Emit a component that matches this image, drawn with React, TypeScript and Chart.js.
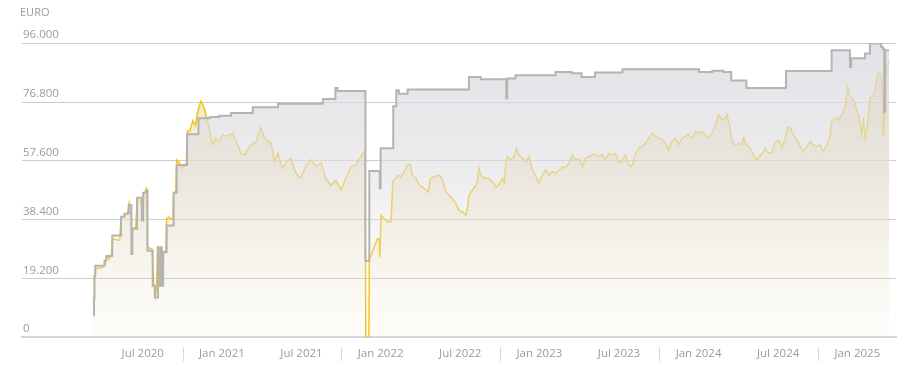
import React, { useEffect, useRef } from 'react';
import { Chart, registerables } from 'chart.js';

Chart.register(...registerables);

// x values are days since 1 Jan 2020
const valueDays = [
  161, 162, 163, 165, 181, 186, 188, 193, 197, 202,
  205, 221, 224, 232, 239, 243, 247, 249, 251, 258,
  261, 270, 274, 276, 282, 285, 295, 299, 303, 306,
  308, 311, 314, 316, 320, 322, 327, 329, 335, 340,
  343, 345, 350, 352, 358, 364, 370, 374, 377, 383,
  389, 395, 400, 404, 408, 412, 415, 419, 425, 431,
  436, 442, 450, 457, 466, 473, 481, 489, 500, 508,
  516, 523, 535, 540, 546, 554, 562, 569, 577, 585,
  596, 606, 615, 623, 630, 638, 650, 661, 673, 684,
  695, 707, 718, 730, 741, 753, 764, 776, 782, 785,
  787, 794, 795, 799, 806, 814, 818, 819, 822, 829,
  837, 845, 849, 852, 860, 868, 875, 883, 889, 894,
  902, 910, 917, 925, 930, 936, 944, 956, 963, 971,
  978, 986, 994, 1001, 1009, 1017, 1021, 1024, 1032, 1040,
  1044, 1047, 1051, 1059, 1067, 1078, 1086, 1093, 1101, 1105,
  1109, 1113, 1120, 1128, 1133, 1139, 1147, 1155, 1162, 1170,
  1177, 1184, 1193, 1200, 1208, 1216, 1223, 1231, 1239, 1246,
  1254, 1262, 1269, 1277, 1285, 1292, 1300, 1308, 1315, 1323,
  1331, 1338, 1346, 1354, 1361, 1369, 1377, 1384, 1392, 1396,
  1400, 1407, 1415, 1422, 1430, 1438, 1445, 1453, 1461, 1468,
  1476, 1483, 1491, 1499, 1506, 1514, 1522, 1529, 1537, 1545,
  1552, 1560, 1568, 1575, 1583, 1591, 1598, 1606, 1614, 1617,
  1623, 1629, 1637, 1644, 1650, 1656, 1662, 1671, 1679, 1686,
  1694, 1702, 1705, 1713, 1721, 1728, 1736, 1744, 1751, 1758,
  1763, 1770, 1778, 1786, 1793, 1801, 1809, 1816, 1824, 1832,
  1839, 1847, 1855, 1858, 1866, 1874, 1881, 1889, 1895, 1900,
  1908, 1912, 1920, 1927, 1931, 1935, 1941, 1946, 1954, 1962,
  1965, 1972, 1975, 1977, 1980, 1983, 1990,
];

const valueEuro = [
  7100, 12000, 19000, 22300, 22800, 23500, 24200, 26100, 25500, 27000,
  32100, 31600, 38700, 39800, 40500, 43900, 42000, 27200, 35400, 36000,
  45000, 44500, 38100, 46500, 48300, 29400, 28800, 17900, 13500, 17000,
  29400, 29000, 16800, 29400, 17500, 28000, 28000, 38700, 39200, 38500,
  38500, 47200, 47500, 57900, 57000, 55100, 56000, 56500, 67400, 67500,
  70700, 69200, 73200, 75500, 77100, 76000, 74900, 72700, 69400, 65000,
  62800, 65000, 63900, 66100, 65600, 66000, 66600, 63900, 60000, 59500,
  61600, 62800, 63900, 66500, 68500, 65000, 63900, 63500, 57300, 60000,
  55100, 57500, 58400, 54600, 52800, 52100, 56200, 57900, 55700, 56800,
  51900, 49600, 51300, 48000, 51900, 55700, 56200, 59000, 60600, 58500,
  0, 0, 25500, 26600, 29400, 32100, 32000, 26100, 39800, 38700,
  37600, 37800, 50800, 51300, 52900, 52400, 54100, 56200, 56500, 52900,
  51900, 49600, 49100, 48000, 47500, 51900, 52400, 52900, 51300, 47500,
  46400, 45300, 43600, 41400, 40900, 39800, 42500, 46400, 48000, 49600,
  51300, 55100, 52900, 52100, 51900, 50800, 49100, 49800, 51900, 50500,
  56800, 59000, 57900, 59000, 61700, 59500, 58400, 57300, 59000, 54600,
  52900, 50200, 52900, 54600, 52900, 54100, 53500, 54500, 55700, 55300,
  56800, 59500, 57900, 58200, 55700, 58400, 59000, 59500, 59700, 59000,
  59500, 57900, 60000, 59500, 60000, 56800, 57900, 59500, 56200, 55700,
  56500, 60000, 61700, 62300, 63400, 65000, 66600, 65600, 65000, 64500,
  63400, 61200, 63900, 65000, 62800, 65000, 65600, 66100, 65000, 67200,
  66600, 67200, 66100, 65000, 66600, 69400, 72700, 71000, 71600, 72700,
  69400, 63900, 62800, 63200, 62800, 65000, 62800, 61700, 59500, 57900,
  59500, 60600, 61700, 60000, 60300, 63400, 64500, 61700, 65000, 68800,
  68300, 66100, 64500, 62300, 60600, 62300, 63900, 62800, 62300, 62800,
  60600, 62800, 66100, 70500, 71600, 71000, 72700, 74900, 81400, 78700,
  77600, 76000, 72700, 66000, 71600, 65000, 69900, 78200, 78700, 83600,
  86400, 85800, 80000, 65600, 75000, 88000, 90200,
];

const investedDays = [
  161, 162, 163, 165, 186, 190, 204, 224, 232, 242,
  248, 250, 261, 272, 275, 283, 285, 297, 302, 309,
  311, 316, 318, 321, 329, 345, 352, 376, 402, 428,
  450, 477, 527, 585, 688, 717, 722, 786, 795, 819,
  821, 850, 857, 863, 883, 1024, 1051, 1110, 1112, 1131,
  1223, 1260, 1283, 1314, 1377, 1553, 1584, 1609, 1627, 1662,
  1753, 1858, 1900, 1903, 1935, 1946, 1972, 1976, 1979, 1981,
  1990,
];

const investedEuro = [
  7100, 13000, 20000, 23300, 25000, 26500, 33200, 39300, 40300, 43100,
  27200, 35400, 45500, 38100, 47200, 48000, 28200, 16800, 13000, 29400,
  16800, 29400, 16800, 27700, 36500, 47200, 56200, 66300, 71500, 71900,
  72300, 73200, 75100, 76200, 77800, 81400, 80400, 25000, 54300, 48600,
  61700, 75400, 80600, 79500, 80900, 85000, 84200, 78000, 84500, 85500,
  86600, 86200, 85000, 86400, 87500, 86600, 87000, 86600, 83800, 81400,
  86900, 93700, 88200, 91100, 92600, 95900, 94800, 94000, 73600, 93700,
  93700,
];

const xTickDays = [274, 456, 639, 821, 1004, 1186, 1369, 1552, 1735, 1917];
const xTickLabels = ['Jul 2020', 'Jan 2021', 'Jul 2021', 'Jan 2022', 'Jul 2022', 'Jan 2023', 'Jul 2023', 'Jan 2024', 'Jul 2024', 'Jan 2025'];
const yearStartDays = [366, 731, 1096, 1461, 1827];
const yTickValues = [0, 19200, 38400, 57600, 76800, 96000];

const FONT = "'Open Sans', 'DejaVu Sans', sans-serif";
const LABEL_COLOR = '#9b9b9b';

function formatEuro(v: number): string {
  if (v === 0) return '0';
  const th = Math.floor(v / 1000);
  const rest = String(Math.round(v % 1000)).padStart(3, '0');
  return th + '.' + rest;
}

function makeGradient(chart: any, stops: Array<[number, string]>) {
  const area = chart.chartArea;
  if (!area) return stops[stops.length - 1][1];
  const g = chart.ctx.createLinearGradient(0, area.top, 0, area.bottom);
  stops.forEach(([o, c]) => g.addColorStop(o, c));
  return g;
}

const separatorPlugin = {
  id: 'yearSeparators',
  afterDraw(chart: any) {
    const { ctx, chartArea } = chart;
    const xs = chart.scales.x;
    ctx.save();
    ctx.strokeStyle = '#d8d8d8';
    ctx.lineWidth = 1;
    yearStartDays.forEach((d) => {
      const px = Math.round(xs.getPixelForValue(d)) + 0.5;
      ctx.beginPath();
      ctx.moveTo(px, chartArea.bottom + 10);
      ctx.lineTo(px, chartArea.bottom + 24);
      ctx.stroke();
    });
    ctx.restore();
  },
};

export default function App() {
  const ref = useRef<HTMLCanvasElement | null>(null);

  useEffect(() => {
    if (!ref.current) return;
    const chart = new Chart(ref.current, {
      type: 'line',
      data: {
        datasets: [
          {
            label: 'Einstand',
            data: investedDays.map((d, i) => ({ x: d, y: investedEuro[i] })),
            stepped: true,
            borderColor: '#b4b4b4',
            borderWidth: 2,
            pointRadius: 0,
            fill: 'origin',
            backgroundColor: (c: any) =>
              makeGradient(c.chart, [
                [0, 'rgba(218,218,223,0.78)'],
                [0.42, 'rgba(222,222,227,0.58)'],
                [0.72, 'rgba(226,226,230,0.2)'],
                [1, 'rgba(230,230,233,0.03)'],
              ]),
          },
          {
            label: 'Depotwert',
            data: valueDays.map((d, i) => ({ x: d, y: valueEuro[i] })),
            borderColor: '#f5c417',
            borderWidth: 1.5,
            pointRadius: 0,
            tension: 0,
            fill: 'origin',
            backgroundColor: (c: any) =>
              makeGradient(c.chart, [
                [0, 'rgba(232,202,112,0.5)'],
                [0.5, 'rgba(234,208,130,0.28)'],
                [1, 'rgba(238,220,170,0.03)'],
              ]),
          },
        ],
      },
      options: {
        animation: false,
        responsive: false,
        events: [],
        layout: { padding: { left: 20, right: 22, top: 0, bottom: 4 } },
        plugins: {
          legend: { display: false },
          tooltip: { enabled: false },
          title: {
            display: true,
            text: 'EURO',
            align: 'start',
            color: LABEL_COLOR,
            font: { family: FONT, size: 11, weight: 'normal' },
            padding: { top: 6, bottom: 24 },
          },
        },
        scales: {
          x: {
            type: 'linear',
            min: -3.6,
            max: 2006,
            afterBuildTicks: (s: any) => {
              s.ticks = xTickDays.map((v) => ({ value: v }));
            },
            grid: { display: false, drawTicks: false },
            border: { display: true, color: '#d4d7de', width: 2 },
            ticks: {
              autoSkip: false,
              maxRotation: 0,
              padding: 10,
              color: LABEL_COLOR,
              font: { family: FONT, size: 11.5 },
              callback: (v: any) => {
                const i = xTickDays.indexOf(Number(v));
                return i >= 0 ? xTickLabels[i] : '';
              },
            },
          },
          y: {
            min: 0,
            max: 96000,
            afterBuildTicks: (s: any) => {
              s.ticks = yTickValues.map((v) => ({ value: v }));
            },
            grid: {
              drawTicks: false,
              lineWidth: 1,
              color: (c: any) => (c.tick && c.tick.value === 0 ? 'rgba(0,0,0,0)' : '#cdcdcd'),
            },
            border: { display: false },
            ticks: {
              mirror: true,
              padding: 1,
              labelOffset: -8,
              color: LABEL_COLOR,
              font: { family: FONT, size: 11.5 },
              callback: (v: any) => formatEuro(Number(v)),
            },
          },
        },
      },
      plugins: [separatorPlugin],
    } as any);
    return () => chart.destroy();
  }, []);

  return (
    <div style={{ position: 'fixed', left: 0, top: 0, width: 918, height: 375, background: '#fff' }}>
      <canvas ref={ref} width={918} height={375} style={{ display: 'block' }} />
    </div>
  );
}
